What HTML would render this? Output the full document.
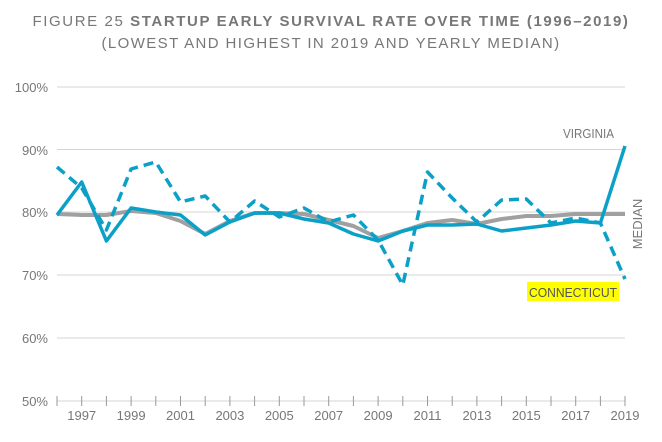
<!DOCTYPE html>
<html><head><meta charset="utf-8"><style>
body{margin:0;background:#fff;width:662px;height:437px;overflow:hidden;font-family:"Liberation Sans",sans-serif}
</style></head><body>
<svg width="662" height="437" viewBox="0 0 662 437" xmlns="http://www.w3.org/2000/svg" font-family="Liberation Sans, sans-serif">
<text x="331" y="26" text-anchor="middle" font-size="15" fill="#777" letter-spacing="1.6">FIGURE 25 <tspan font-weight="bold">STARTUP EARLY SURVIVAL RATE OVER TIME (1996–2019)</tspan></text>
<text x="331" y="48" text-anchor="middle" font-size="15" fill="#777" letter-spacing="1.4">(LOWEST AND HIGHEST IN 2019 AND YEARLY MEDIAN)</text>
<g stroke="#d4d4d4" stroke-width="1">
<line x1="57" x2="625" y1="87" y2="87"/><line x1="57" x2="625" y1="149.5" y2="149.5"/><line x1="57" x2="625" y1="212" y2="212"/><line x1="57" x2="625" y1="275" y2="275"/><line x1="57" x2="625" y1="338" y2="338"/><line x1="57" x2="625" y1="401" y2="401"/>
</g>
<g stroke="#999" stroke-width="1">
<line x1="57" x2="57" y1="396" y2="406"/><line x1="81.7" x2="81.7" y1="396" y2="406"/><line x1="106.4" x2="106.4" y1="396" y2="406"/><line x1="131.1" x2="131.1" y1="396" y2="406"/><line x1="155.8" x2="155.8" y1="396" y2="406"/><line x1="180.5" x2="180.5" y1="396" y2="406"/><line x1="205.2" x2="205.2" y1="396" y2="406"/><line x1="229.9" x2="229.9" y1="396" y2="406"/><line x1="254.6" x2="254.6" y1="396" y2="406"/><line x1="279.3" x2="279.3" y1="396" y2="406"/><line x1="304" x2="304" y1="396" y2="406"/><line x1="328.7" x2="328.7" y1="396" y2="406"/><line x1="353.4" x2="353.4" y1="396" y2="406"/><line x1="378.1" x2="378.1" y1="396" y2="406"/><line x1="402.8" x2="402.8" y1="396" y2="406"/><line x1="427.5" x2="427.5" y1="396" y2="406"/><line x1="452.2" x2="452.2" y1="396" y2="406"/><line x1="476.9" x2="476.9" y1="396" y2="406"/><line x1="501.6" x2="501.6" y1="396" y2="406"/><line x1="526.3" x2="526.3" y1="396" y2="406"/><line x1="551" x2="551" y1="396" y2="406"/><line x1="575.7" x2="575.7" y1="396" y2="406"/><line x1="600.4" x2="600.4" y1="396" y2="406"/><line x1="625" x2="625" y1="396" y2="406"/>
</g>
<g font-size="13" fill="#777" text-anchor="end">
<text x="48" y="92">100%</text><text x="48" y="155">90%</text><text x="48" y="217">80%</text><text x="48" y="280">70%</text><text x="48" y="343">60%</text><text x="48" y="406">50%</text>
</g>
<g font-size="13" fill="#777" text-anchor="middle">
<text x="81.7" y="420">1997</text><text x="131.1" y="420">1999</text><text x="180.5" y="420">2001</text><text x="229.9" y="420">2003</text><text x="279.3" y="420">2005</text><text x="328.7" y="420">2007</text><text x="378.1" y="420">2009</text><text x="427.5" y="420">2011</text><text x="476.9" y="420">2013</text><text x="526.3" y="420">2015</text><text x="575.7" y="420">2017</text><text x="625" y="420">2019</text>
</g>
<polyline fill="none" stroke="#a0a0a0" stroke-width="4" stroke-linejoin="round" points="57,214 81.7,215 106.4,215 131.1,211 155.8,213 180.5,221 205.2,234 229.9,221 254.6,213 279.3,213 304,214 328.7,220 353.4,226 378.1,238 402.8,231 427.5,223 452.2,220 476.9,224 501.6,219 526.3,216 551,216 575.7,214 600.4,214 625,214"/>
<polyline fill="none" stroke="#0aa0c8" stroke-width="3.5" stroke-dasharray="10,6" stroke-linejoin="round" points="57,167 81.7,188 106.4,230 131.1,169 155.8,162 180.5,202 205.2,196 229.9,222 254.6,201 279.3,217 304,208 328.7,222 353.4,215 378.1,240 402.8,285 427.5,172 452.2,198 476.9,222 501.6,200 526.3,199 551,223 575.7,218 600.4,223 625,279"/>
<polyline fill="none" stroke="#0aa0c8" stroke-width="3.5" stroke-linejoin="round" points="57,215 81.7,182 106.4,241 131.1,208 155.8,212 180.5,215 205.2,235 229.9,222 254.6,213 279.3,213 304,219 328.7,223 353.4,234 378.1,241 402.8,231 427.5,225 452.2,225 476.9,224 501.6,231 526.3,228 551,225 575.7,221 600.4,223 625,146"/>
<text x="563" y="138" font-size="13" fill="#777" textLength="51" lengthAdjust="spacingAndGlyphs">VIRGINIA</text>
<text transform="translate(642,224) rotate(-90)" text-anchor="middle" font-size="13" fill="#777">MEDIAN</text>
<rect x="527" y="282" width="92" height="19" fill="#ffff00"/>
<text x="529" y="297" font-size="13" fill="#555" textLength="88" lengthAdjust="spacingAndGlyphs">CONNECTICUT</text>
</svg>
</body></html>
